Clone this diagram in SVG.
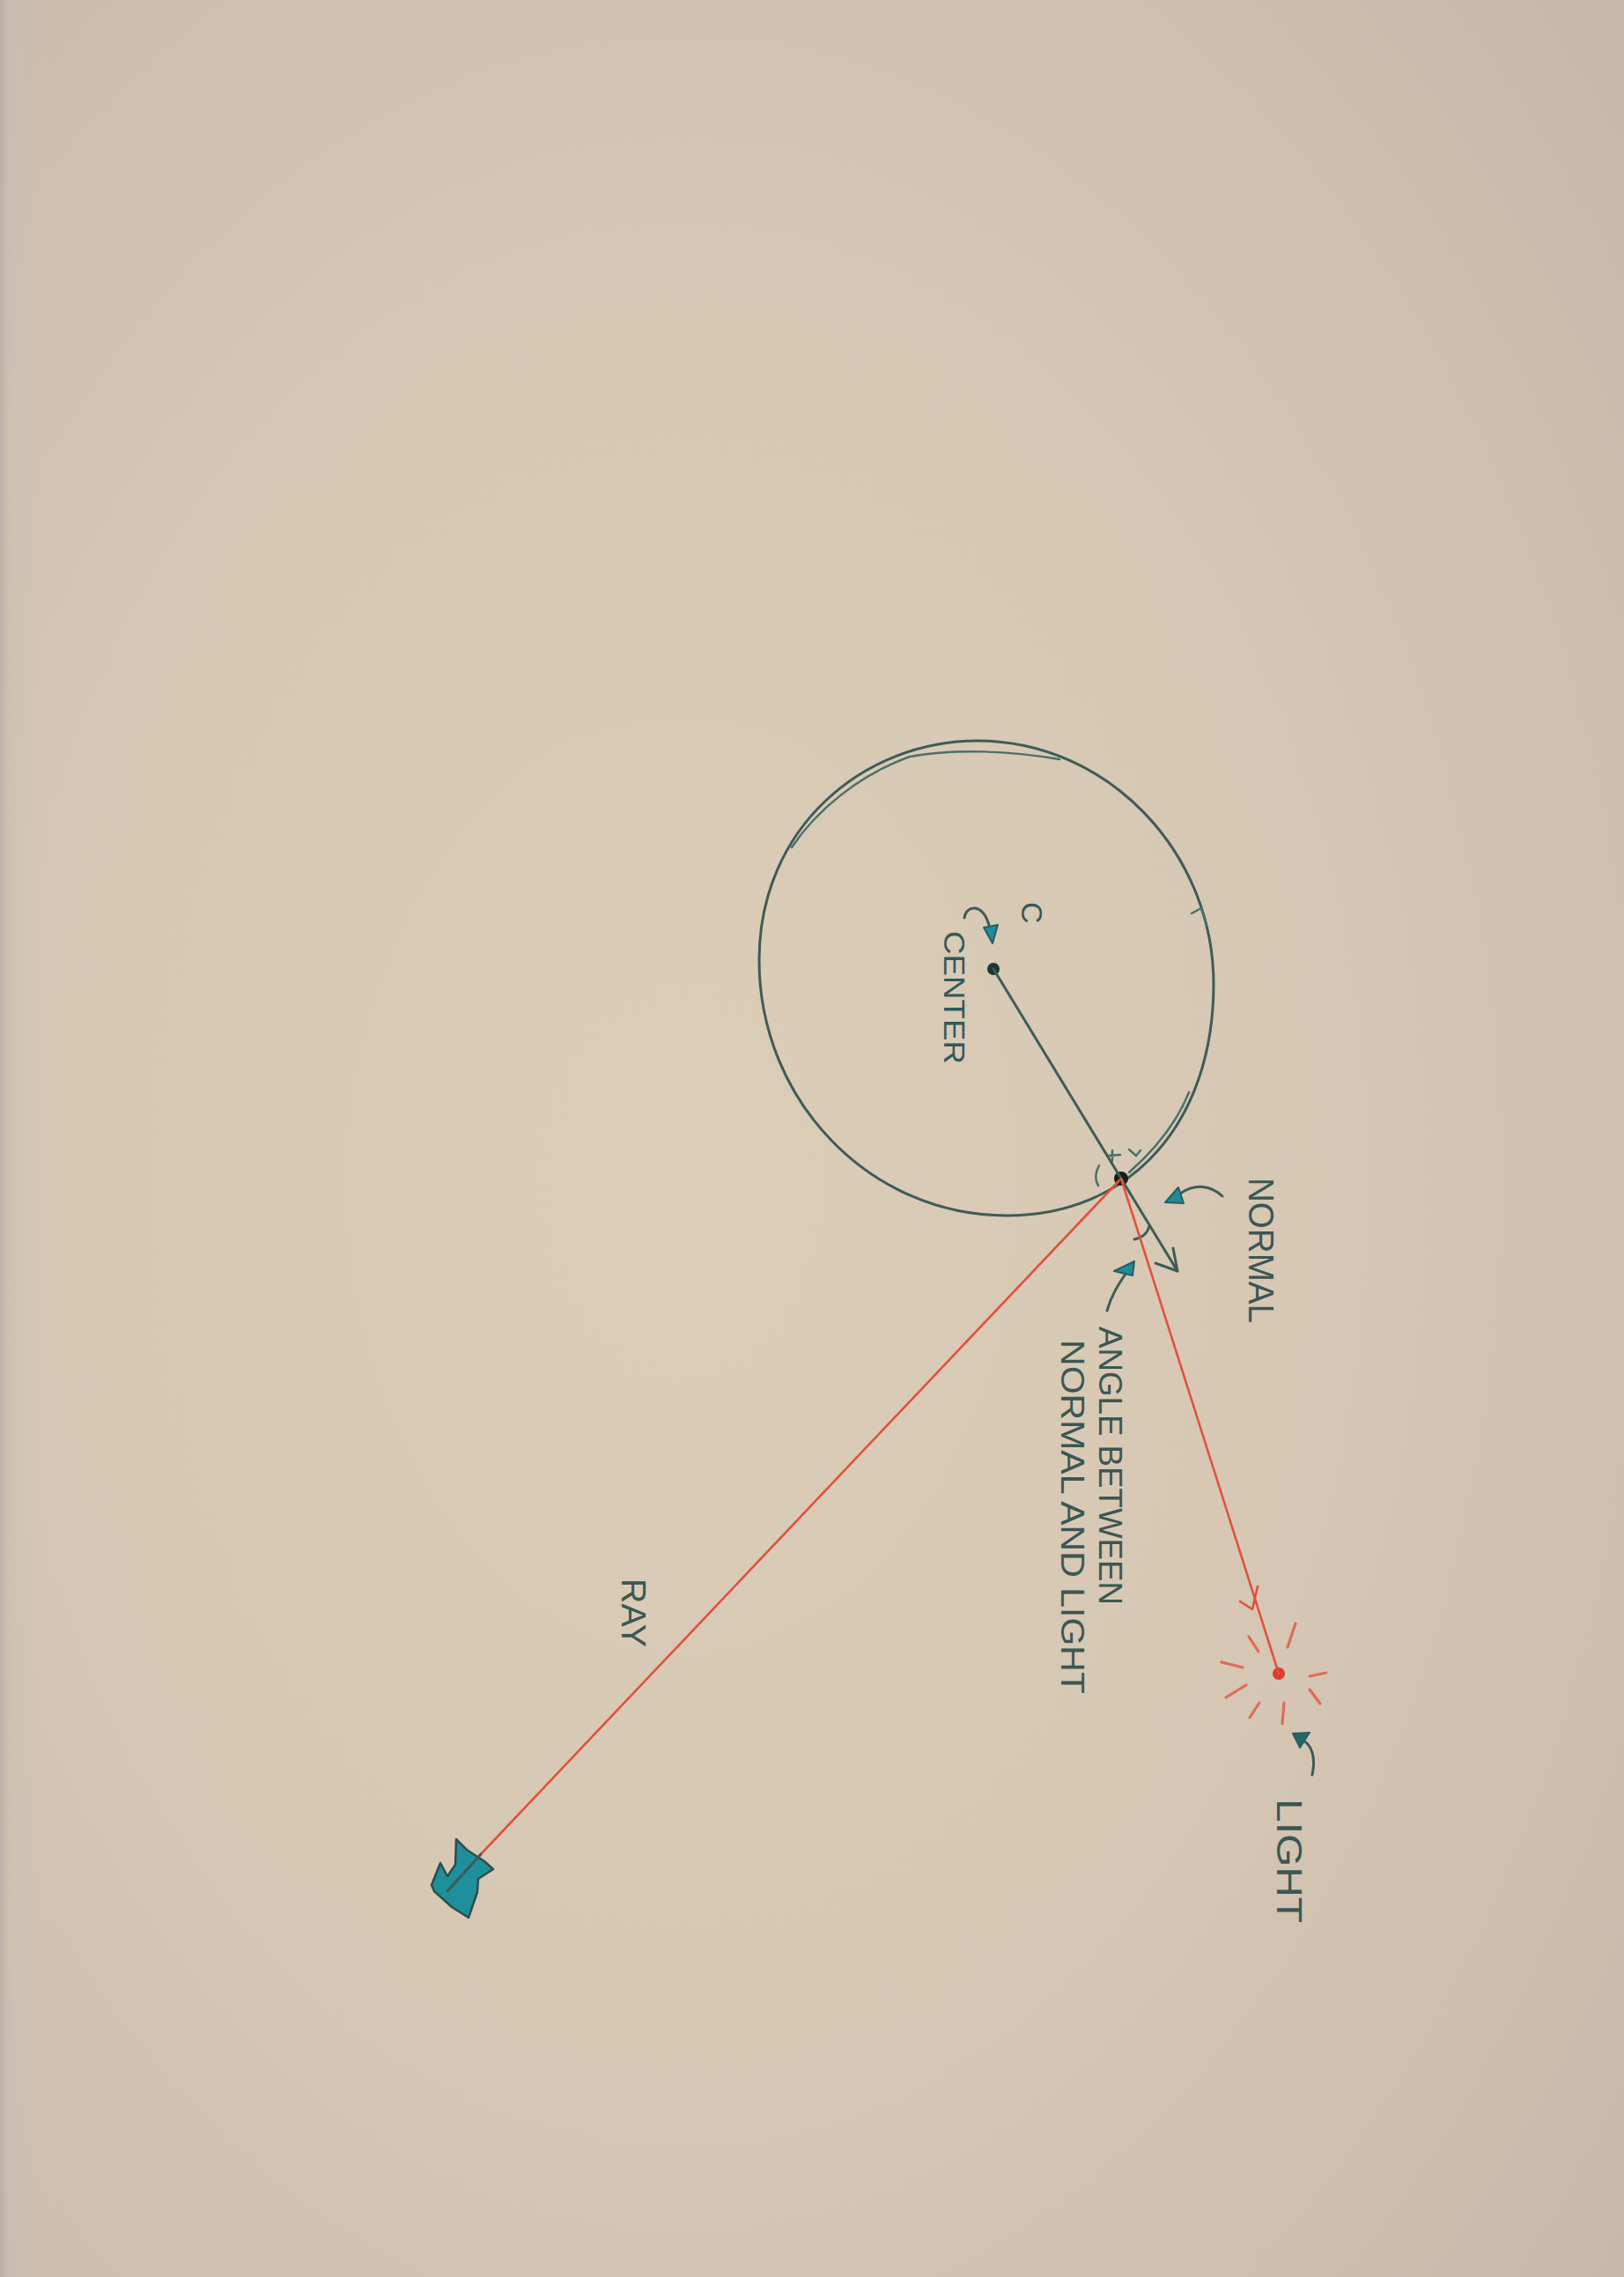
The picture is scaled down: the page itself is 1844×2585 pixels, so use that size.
<svg xmlns="http://www.w3.org/2000/svg" width="1844" height="2585" viewBox="0 0 1844 2585">
  <defs>
    <radialGradient id="paper" cx="0.42" cy="0.52" r="0.75">
      <stop offset="0" stop-color="#dccdb7"/>
      <stop offset="0.55" stop-color="#d6c7b4"/>
      <stop offset="1" stop-color="#c6b7a9"/>
    </radialGradient>
    <linearGradient id="edge" x1="0" y1="0" x2="1" y2="0">
      <stop offset="0" stop-color="#b9aea6" stop-opacity="0.9"/>
      <stop offset="0.006" stop-color="#c9beb3" stop-opacity="0.5"/>
      <stop offset="0.03" stop-color="#d0c3b4" stop-opacity="0"/>
    </linearGradient>
    <style>
      .ink { fill: none; stroke: #3e5c57; stroke-width: 3; stroke-linecap: round; stroke-linejoin: round; }
      .ink2 { fill: none; stroke: #4b6f69; stroke-width: 2.5; stroke-linecap: round; }
      .red { fill: none; stroke: #e0523f; stroke-width: 2.6; stroke-linecap: round; stroke-linejoin: round; }
      .redray { fill: none; stroke: #e06a5a; stroke-width: 3.2; stroke-linecap: round; }
      .ptr { fill: none; stroke: #3e5c57; stroke-width: 3; stroke-linecap: round; }
      .head { fill: #1f8b9b; stroke: #2a5c62; stroke-width: 2; stroke-linejoin: round; }
      .lbl { font-family: "Liberation Sans", "DejaVu Sans", sans-serif; fill: #3b5752; }
    </style>
  </defs>

  <rect x="0" y="0" width="1844" height="2585" fill="url(#paper)"/>
  <rect x="0" y="0" width="1844" height="2585" fill="url(#edge)"/>

  <!-- Sphere -->
  <g id="sphere">
    <path class="ink" d="M1110,841 C1258,841 1378,968 1378,1117 C1378,1275 1284,1380 1143,1380 C988,1380 862,1250 862,1090 C862,940 980,841 1110,841 Z"/>
    <path class="ink2" d="M899,962 C927,920 975,880 1033,859 C1085,849 1150,853 1203,862"/>
    <path class="ink2" d="M1350,1240 C1338,1270 1315,1302 1282,1331"/>
    <path class="ink2" d="M1353,1037 L1364,1031 L1370,1050"/>
  </g>

  <!-- Center point -->
  <g id="center">
    <circle cx="1128" cy="1100" r="7" fill="#1f3636"/>
    <text class="lbl" font-size="34" transform="translate(1160,1024) rotate(90)">C</text>
    <text class="lbl" font-size="33" style="fill:#2f5a5d" textLength="151" lengthAdjust="spacingAndGlyphs" transform="translate(1072,1057) rotate(90)">CENTER</text>
  </g>

  <!-- Surface hit point -->
  <g id="hit-point">
    <circle cx="1273" cy="1338" r="8" fill="#161c1b"/>
    <path class="ink2" d="M1248,1323 Q1241,1336 1247,1346"/>
    <path class="ink2" d="M1258,1312 L1272,1311 M1263,1306 L1263,1318"/>
    <path class="ink2" d="M1282,1305 L1290,1312 L1295,1306"/>
  </g>

  <!-- Light source -->
  <g id="light">
    <circle cx="1452" cy="1900" r="7" fill="#df3b30"/>
    <path class="redray" d="M1462,1870 L1471,1843 M1418,1858 L1429,1875 M1387,1887 L1411,1893 M1392,1927 L1415,1913 M1419,1950 L1430,1933 M1456,1957 L1458,1933 M1487,1918 L1499,1934 M1487,1903 L1506,1899"/>
    <text class="lbl" font-size="40" textLength="141" lengthAdjust="spacingAndGlyphs" transform="translate(1450,2042) rotate(90)">LIGHT</text>
  </g>

  <!-- Eye / camera -->
  <g id="eye">
    <polygon points="518,2088 530,2100 550,2113 560,2122 543,2133 542,2148 532,2177 513,2165 493,2147 490,2140 500,2115 508,2130 517,2117" fill="#1f8f9b" stroke="#2b4f4c" stroke-width="2.5" stroke-linejoin="round"/>
    <text class="lbl" font-size="38" textLength="78" lengthAdjust="spacingAndGlyphs" transform="translate(706,1792) rotate(90)">RAY</text>
  </g>

  <!-- Annotation labels -->
  <g id="normal-label">
    <text class="lbl" font-size="40" textLength="165" lengthAdjust="spacingAndGlyphs" transform="translate(1418,1337) rotate(90)">NORMAL</text>
  </g>
  <g id="angle-label">
    <text class="lbl" font-size="37" textLength="316" lengthAdjust="spacingAndGlyphs" transform="translate(1248,1506) rotate(90)">ANGLE BETWEEN</text>
    <text class="lbl" font-size="37" textLength="402" lengthAdjust="spacingAndGlyphs" transform="translate(1205,1521) rotate(90)">NORMAL AND LIGHT</text>
  </g>

  <!-- Connectors -->
  <g id="connectors">
    <path class="ink" d="M1128,1100 L1337,1443"/>
    <path class="ink" d="M1312,1434 L1337,1443 L1332,1417"/>
    <path class="ink" stroke-width="3.5" d="M1288,1407 Q1302,1404 1305,1392"/>
    <path class="red" d="M1271,1340 L545,2106"/>
    <path class="ink" d="M546,2105 L508,2147"/>
    <path class="red" d="M1273,1338 L1452,1900"/>
    <path class="red" d="M1408,1818 L1422,1827 L1428,1801"/>
    <path class="ptr" d="M1095,1042 C1097,1028 1115,1024 1123,1050"/>
    <polygon class="head" points="1117,1053 1133,1050 1127,1071"/>
    <path class="ptr" d="M1388,1358 C1375,1346 1358,1343 1340,1355"/>
    <polygon class="head" points="1323,1365 1338,1348 1344,1366"/>
    <path class="ptr" d="M1257,1488 C1262,1470 1270,1458 1279,1445"/>
    <polygon class="head" points="1288,1432 1265,1443 1286,1448"/>
    <path class="ptr" d="M1490,2015 C1494,1996 1490,1982 1480,1976"/>
    <polygon class="head" style="fill:#24676a" points="1468,1968 1487,1967 1476,1984"/>
  </g>
</svg>
